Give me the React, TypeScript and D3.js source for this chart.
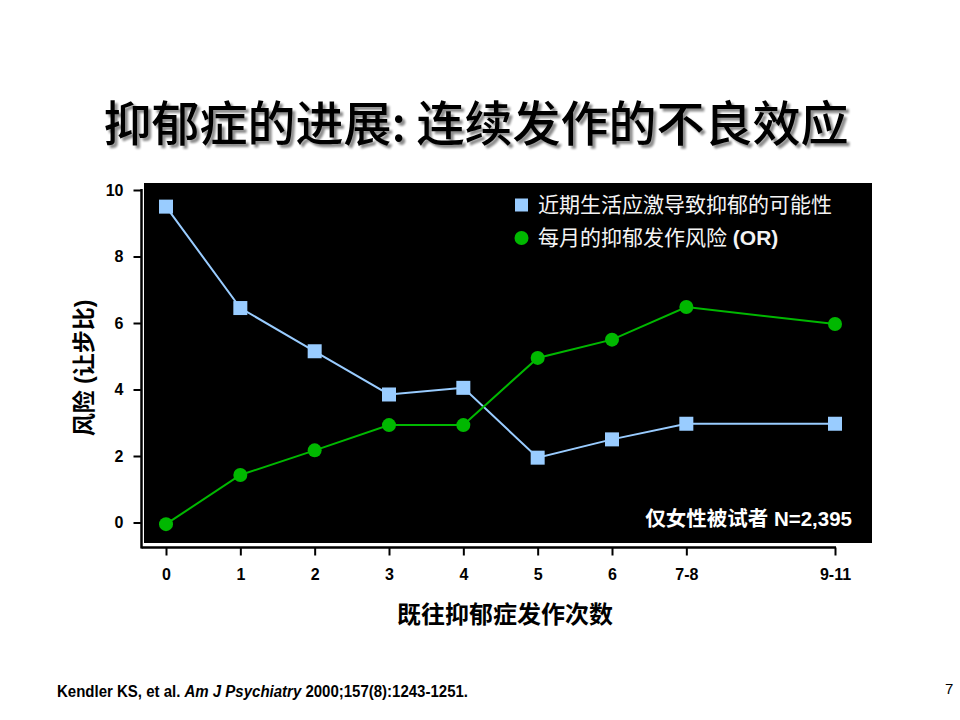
import React, { useEffect, useRef } from "react";
import * as d3 from "d3";

// x categories (number of prior episodes) and their slot on the axis
const episodeLabels = ["0", "1", "2", "3", "4", "5", "6", "7-8", "9-11"];
const episodeSlots = [0, 1, 2, 3, 4, 5, 6, 7, 9];

// series values
const stressRisk = [9.5, 6.45, 5.15, 3.85, 4.05, 1.95, 2.5, 2.97, 2.97];
const monthlyRisk = [-0.05, 1.43, 2.17, 2.93, 2.93, 4.95, 5.5, 6.48, 5.97];

const yTicks = [0, 2, 4, 6, 8, 10];

const seriesNames = ["近期生活应激导致抑郁的可能性", "每月的抑郁发作风险"];

const BLUE = "#99ccff";
const GREEN = "#00b800";
const FONT = "'Liberation Sans', Arial, 'Noto Sans CJK SC', sans-serif";

export default function App() {
  const axisRef = useRef<SVGGElement>(null);

  const width = 960,
    height = 720;

  const x = d3.scaleLinear().domain([0, 9]).range([166, 835]);
  const y = d3.scaleLinear().domain([0, 10]).range([522.5, 190]);

  const axisX = 141.5,
    axisY = 547.5;

  useEffect(() => {
    const g = d3.select(axisRef.current);
    g.selectAll("*").remove();

    // y axis
    const ya = g
      .append("g")
      .attr("transform", `translate(${axisX},0)`)
      .call(
        d3
          .axisLeft(y)
          .tickValues(yTicks)
          .tickSize(8)
          .tickSizeOuter(0)
          .tickPadding(10)
      );
    ya.select(".domain").remove();
    ya.selectAll("line").attr("stroke", "#000").attr("stroke-width", 2);
    ya.selectAll("text")
      .attr("font-family", FONT)
      .attr("font-size", 16)
      .attr("font-weight", "bold")
      .attr("fill", "#000");
    ya.append("line")
      .attr("x1", 0)
      .attr("x2", 0)
      .attr("y1", y(10) - 1)
      .attr("y2", axisY + 1)
      .attr("stroke", "#000")
      .attr("stroke-width", 2.5);

    // x axis
    const xa = g
      .append("g")
      .attr("transform", `translate(0,${axisY})`)
      .call(
        d3
          .axisBottom(x)
          .tickValues(episodeSlots)
          .tickFormat((d, i) => episodeLabels[i])
          .tickSize(8)
          .tickSizeOuter(0)
          .tickPadding(13)
      );
    xa.select(".domain").remove();
    xa.selectAll("line").attr("stroke", "#000").attr("stroke-width", 2);
    xa.selectAll("text")
      .attr("font-family", FONT)
      .attr("font-size", 16)
      .attr("font-weight", "bold")
      .attr("fill", "#000");
    xa.append("line")
      .attr("x1", axisX)
      .attr("x2", x(9) + 1)
      .attr("y1", 0)
      .attr("y2", 0)
      .attr("stroke", "#000")
      .attr("stroke-width", 2.5);
  }, []);

  const line = d3
    .line<number>()
    .x((d, i) => x(episodeSlots[i]))
    .y((d) => y(d));

  const sq = 14;

  return (
    <svg
      width={width}
      height={height}
      style={{ position: "absolute", left: 0, top: 0, background: "#fff" }}
    >
      <defs>
        <filter id="shadow" x="-5%" y="-20%" width="110%" height="150%">
          <feGaussianBlur in="SourceAlpha" stdDeviation="1.2" />
          <feOffset dx="3" dy="3" result="b" />
          <feComponentTransfer>
            <feFuncA type="linear" slope="0.45" />
          </feComponentTransfer>
          <feMerge>
            <feMergeNode />
            <feMergeNode in="SourceGraphic" />
          </feMerge>
        </filter>
      </defs>

      {/* title */}
      <text
        x={476}
        y={141}
        textAnchor="middle"
        fontFamily="'Noto Sans CJK SC', sans-serif"
        fontSize={48}
        fontWeight={500}
        fill="#000"
        filter="url(#shadow)"
      >
        抑郁症的进展: 连续发作的不良效应
      </text>

      {/* plot background */}
      <rect x={144} y={183} width={728} height={360} fill="#000" />

      <g ref={axisRef} />

      {/* series lines */}
      <path d={line(stressRisk) || ""} fill="none" stroke={BLUE} strokeWidth={2} />
      <path d={line(monthlyRisk) || ""} fill="none" stroke={GREEN} strokeWidth={2} />

      {stressRisk.map((v, i) => (
        <rect
          key={"s" + i}
          x={x(episodeSlots[i]) - sq / 2}
          y={y(v) - sq / 2}
          width={sq}
          height={sq}
          fill={BLUE}
        />
      ))}
      {monthlyRisk.map((v, i) => (
        <circle key={"c" + i} cx={x(episodeSlots[i])} cy={y(v)} r={7} fill={GREEN} />
      ))}

      {/* legend */}
      <rect x={515} y={198.5} width={13} height={13} fill={BLUE} />
      <text x={538} y={212} fontFamily={FONT} fontSize={21} fill="#f4f4f4">
        {seriesNames[0]}
      </text>
      <circle cx={521.5} cy={238} r={7} fill={GREEN} />
      <text x={538} y={245} fontFamily={FONT} fontSize={21} fill="#f4f4f4">
        {seriesNames[1]} <tspan fontWeight="bold">(OR)</tspan>
      </text>

      <text
        x={852}
        y={526}
        textAnchor="end"
        fontFamily={FONT}
        fontSize={20.5}
        fontWeight="bold"
        fill="#fff"
      >
        仅女性被试者 N=2,395
      </text>

      {/* axis titles */}
      <text
        transform="translate(92,368) rotate(-90)"
        textAnchor="middle"
        fontFamily={FONT}
        fontSize={23}
        fontWeight="bold"
        fill="#000"
      >
        风险 (让步比)
      </text>
      <text
        x={505}
        y={623}
        textAnchor="middle"
        fontFamily={FONT}
        fontSize={24}
        fontWeight="bold"
        fill="#000"
      >
        既往抑郁症发作次数
      </text>

      {/* footnote */}
      <text
        x={57}
        y={697}
        fontFamily={FONT}
        fontSize={16}
        fontWeight="bold"
        fill="#000"
        textLength={411}
        lengthAdjust="spacingAndGlyphs"
      >
        Kendler KS, et al. <tspan fontStyle="italic">Am J Psychiatry</tspan>{" "}
        2000;157(8):1243-1251.
      </text>
      <text x={945} y={694} fontFamily={FONT} fontSize={15} fill="#000">
        7
      </text>
    </svg>
  );
}
